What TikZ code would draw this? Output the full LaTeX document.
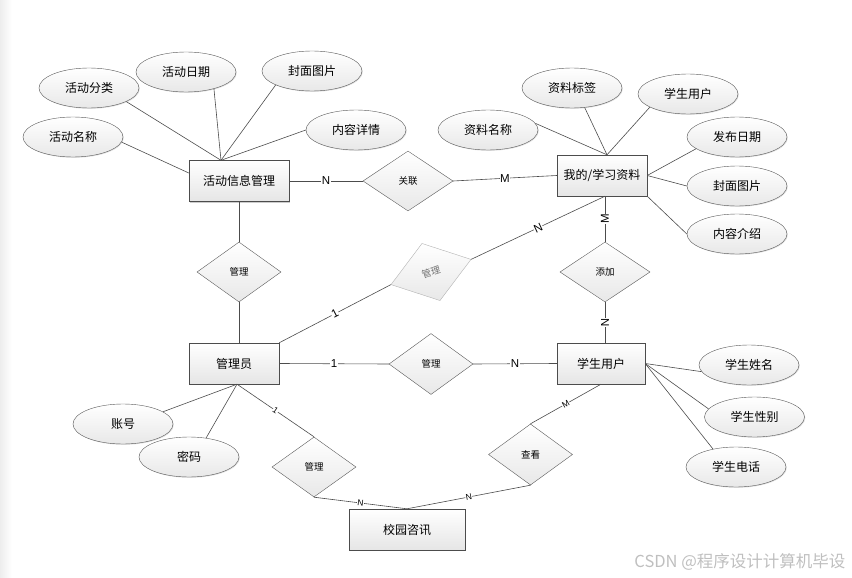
\documentclass[tikz,border=0pt]{standalone}
\usepackage{fontspec}
\setmainfont{Liberation Sans}
\newfontfamily\cjk{Noto Sans CJK SC}
\usetikzlibrary{shapes.geometric,shadows}

\begin{document}
\begin{tikzpicture}[x=1pt,y=-1pt,
		entity/.style={draw=black!70,top color=white,bottom color=black!10,minimum height=41pt,inner sep=0pt,
			font=\cjk\fontsize{12}{14}\selectfont,drop shadow={shadow xshift=1pt,shadow yshift=-1pt,fill=black!40,opacity=0.5}},
		attr/.style={ellipse,draw=black!65,top color=white,bottom color=black!9,minimum width=100pt,minimum height=40pt,
			inner sep=0pt,font=\cjk\fontsize{12}{14}\selectfont,drop shadow={shadow xshift=0.8pt,shadow yshift=-0.8pt,fill=black!30,opacity=0.4}},
		rel/.style={diamond,draw=black!65,top color=white,bottom color=black!9,minimum width=84pt,minimum height=60pt,
			inner sep=0pt,font=\cjk\fontsize{9.5}{11}\selectfont},
		link/.style={draw=black!70,line width=0.6pt},
		card/.style={fill=white,inner sep=0.6pt,font=\fontsize{11.5}{12}\selectfont},
		smallcard/.style={fill=white,inner sep=0.4pt,sloped,font=\fontsize{8.5}{9}\selectfont}]
		\useasboundingbox (0,0) rectangle (852,578);
		\shade[left color=black!7,right color=white] (0,0) rectangle (12,578);
		% entities
		\node[entity,minimum width=100pt] (act) at (239,181) {活动信息管理};
		\node[entity,minimum width=90pt] (mat) at (602,175.5) {我的/学习资料};
		\node[entity,minimum width=90pt] (adm) at (234,363.5) {管理员};
		\node[entity,minimum width=88pt] (stu) at (601,363.5) {学生用户};
		\node[entity,minimum width=116pt] (news) at (407,529.5) {校园咨讯};
		% relations
		\node[rel,minimum width=90pt] (rel1) at (408,181) {关联};
		\node[rel] (mng1) at (239,272) {管理};
		\node[rel,draw=black!30,text=black!55,rotate=17.5] (mng2) at (431,272) {管理};
		\node[rel,minimum width=90pt] (add) at (605,272) {添加};
		\node[rel,minimum height=61pt] (mng4) at (431,364) {管理};
		\node[rel] (mng3) at (314,467) {管理};
		\node[rel,minimum height=61pt] (chk) at (530.5,454.5) {查看};
		% attributes
		\foreach \n/\p/\t in {aname/{73,137}/活动名称, acat/{89,88}/活动分类, adate/{186,72}/活动日期,
			acover/{312,71}/封面图片, adetail/{356,130}/内容详情, mname/{488,130}/资料名称, mtag/{572,88}/资料标签,
			muser/{688,94}/学生用户, mdate/{737,137}/发布日期, mcover/{737,186}/封面图片, mintro/{737,234}/内容介绍,
			sname/{749,365}/学生姓名, ssex/{754.5,417}/学生性别, stel/{736,467}/学生电话,
			acc/{123,424}/账号, pwd/{189,457}/密码}{
			\node[attr] (\n) at (\p) {\t};
		}
		\coordinate (act top) at ([xshift=-18pt]act.north);
		\coordinate (act left) at ([yshift=8pt]act.west);
		\coordinate (mat top) at ([xshift=5pt]mat.north);
		\coordinate (mat bot) at (add.north |- mat.south);
		\coordinate (adm bot) at ([xshift=3pt]adm.south);
		\foreach \a/\ang in {acat/-20, adate/-31, acover/-159, adetail/180}{
			\draw[link] (\a.\ang) -- (act top);
		}
		\draw[link] (aname.-6) -- (act left);
		\foreach \a/\ang in {mname/8, mtag/-57, muser/-161}{
			\draw[link] (\a.\ang) -- (mat top);
		}
		\foreach \a/\ang in {mdate/-164, mcover/180}{
			\draw[link] (\a.\ang) -- (mat.east);
		}
		\draw[link] (mintro.west) -- (mat.south east);
		\foreach \a/\ang in {sname/-172, ssex/170, stel/142}{
			\draw[link] (\a.\ang) -- (stu.east);
		}
		\draw[link] (acc.17) -- (adm bot);
		\draw[link] (pwd.48) -- (adm bot);
		% relation lines
		\draw[link] (act.east) -- node[card]{N} (rel1.west);
		\draw[link] (rel1.east) -- node[card]{M} (mat.west);
		\draw[link] (act.south) -- (mng1.north);
		\draw[link] (mng1.south) -- (mng1.south |- adm.north);
		\draw[link] (adm.north east) -- node[card,sloped]{1} (mng2.west);
		\draw[link] (mng2.east) -- node[card,sloped]{N} (mat bot);
		\draw[link] (add.north) -- node[card,sloped]{M} (mat bot);
		\draw[link] (add.south) -- node[card,sloped]{N} (add.south |- stu.north);
		\draw[link] (adm.east) -- node[card]{1} (mng4.west);
		\draw[link] (mng4.east) -- node[card]{N} (stu.west);
		\draw[link] (adm bot) -- node[smallcard]{1} (mng3.north);
		\draw[link] (mng3.south) -- node[smallcard]{N} (news.north);
		\draw[link] (chk.south) -- node[smallcard]{N} (news.north);
		\draw[link] (chk.north) -- node[smallcard]{M} (stu.south);
		\node[anchor=east,text=black!25,font=\cjk\fontsize{16.5}{17}\selectfont] (mark) at (849,562) {CSDN @程序设计计算机毕设};
\end{tikzpicture}
\end{document}
